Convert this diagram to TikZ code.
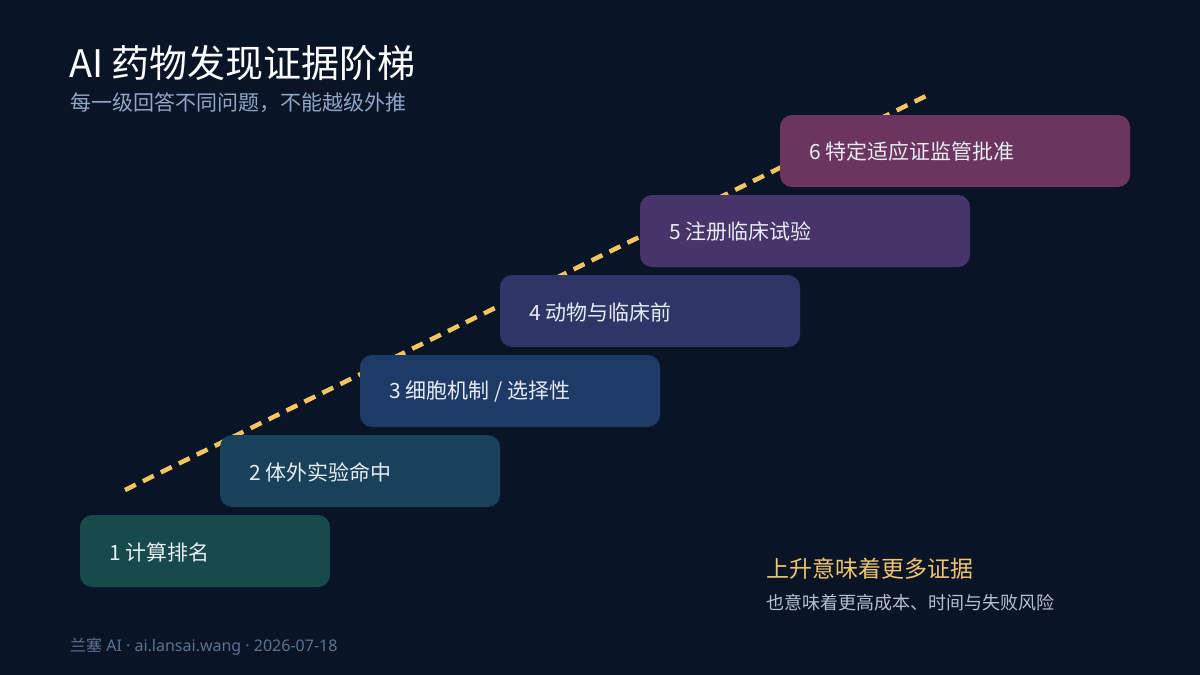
\documentclass[tikz,border=0pt]{standalone}
\usepackage{fontspec}
\setmainfont{Noto Sans CJK SC}
\newfontfamily\latinfont{Noto Sans}
\begin{document}
\begin{tikzpicture}[x=1pt,y=-1pt,
  steplabel/.style={anchor=west, text=boxtext, font=\fontsize{21}{25}\selectfont}]
\definecolor{bg}{HTML}{0A1427}
\definecolor{boxtext}{HTML}{E6ECF4}
\definecolor{cA}{HTML}{174A4A}
\definecolor{cB}{HTML}{19425A}
\definecolor{cC}{HTML}{1E3A66}
\definecolor{cD}{HTML}{2D3667}
\definecolor{cE}{HTML}{46346B}
\definecolor{cF}{HTML}{6B355F}
\definecolor{dashy}{HTML}{F7C55E}
\definecolor{subt}{HTML}{8EA7C6}
\definecolor{foot}{HTML}{5A7292}
\definecolor{gold}{HTML}{EFC470}
\definecolor{grey}{HTML}{B3C0D0}
\fill[bg] (0,0) rectangle (1200,675);
\useasboundingbox (0,0) rectangle (1200,675);
% dashed trend line
\coordinate (ds) at (125,490);
\coordinate (de) at (926,96);
\draw[dashy, line width=4.5pt, dash pattern=on 12pt off 8pt] (ds) -- (de);
% boxes
\fill[cA, rounded corners=12pt] (80,515) rectangle (330,587);
\fill[cB, rounded corners=12pt] (220,435) rectangle (500,507);
\fill[cC, rounded corners=12pt] (360,355) rectangle (660,427);
\fill[cD, rounded corners=12pt] (500,275) rectangle (800,347);
\fill[cE, rounded corners=12pt] (640,195) rectangle (970,267);
\fill[cF, rounded corners=12pt] (780,115) rectangle (1130,187);
\node[steplabel] (s1) at (106,552) {1 计算排名};
\node[steplabel] (s2) at (246,472) {2 体外实验命中};
\node[steplabel] (s3) at (386,392) {3 细胞机制 / 选择性};
\node[steplabel] (s4) at (526,312) {4 动物与临床前};
\node[steplabel] (s5) at (666,232) {5 注册临床试验};
\node[steplabel] (s6) at (806,152) {6 特定适应证监管批准};
% titles
\node[anchor=base west, text=white, font=\fontsize{38}{42}\selectfont, inner sep=0pt] (title) at (69,77) {AI 药物发现证据阶梯};
\node[anchor=base west, text=subt, font=\fontsize{21}{24}\selectfont, inner sep=0pt] (sub) at (70,110) {每一级回答不同问题，不能越级外推};
% note
\node[anchor=base west, text=gold, font=\fontsize{23}{27}\selectfont, inner sep=0pt] (note1) at (766,577) {上升意味着更多证据};
\node[anchor=base west, text=grey, font=\fontsize{18}{21}\selectfont, inner sep=0pt] (note2) at (766,609) {也意味着更高成本、时间与失败风险};
% footer
\node[anchor=base west, text=foot, font=\fontsize{16}{19}\selectfont, inner sep=0pt] (footer) at (70,651) {兰塞{\latinfont\ AI · ai.lansai.wang · 2026-07-18}};
\end{tikzpicture}
\end{document}
